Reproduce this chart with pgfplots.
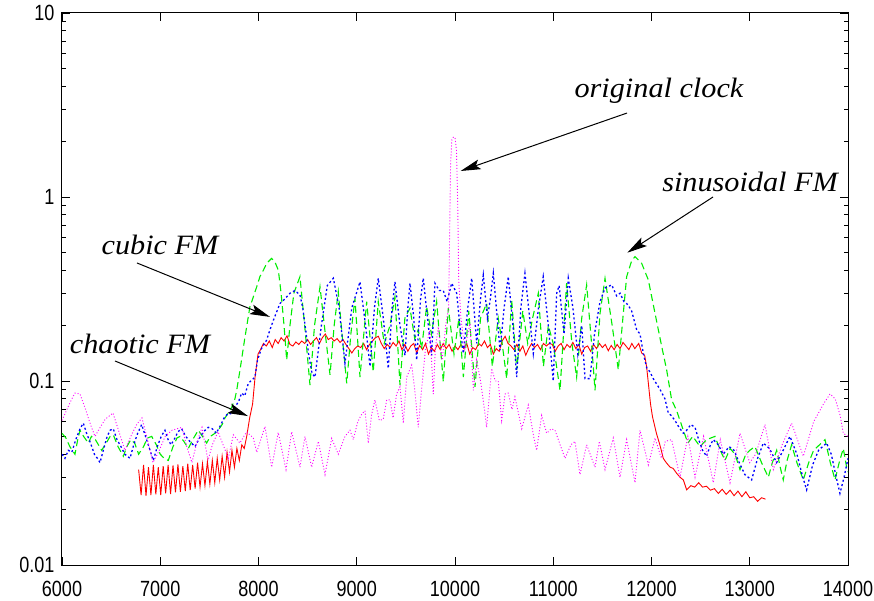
\documentclass[border=0pt]{standalone}
\usepackage{pgfplots}
\pgfplotsset{compat=1.18}
\usepackage{fontspec}
\usetikzlibrary{arrows.meta}
\newfontfamily\tickfont{Liberation Sans}[FakeStretch=0.82]
\newfontfamily\annfont{Liberation Serif}[FakeStretch=1.08]
\definecolor{gpred}{rgb}{1,0,0}
\definecolor{gpgreen}{rgb}{0,0.93,0}
\definecolor{gpblue}{rgb}{0,0,1}
\definecolor{gpmag}{rgb}{1,0,1}
\begin{document}
\begin{tikzpicture}
\begin{axis}[
  scale only axis, width=786bp, height=552bp,
  ymode=log, xmin=6000, xmax=14000, ymin=0.01, ymax=10,
  scaled x ticks=false,
  xtick={6000,7000,8000,9000,10000,11000,12000,13000,14000},
  xticklabels={6000,7000,8000,9000,10000,11000,12000,13000,14000},
  ytick={0.01,0.1,1,10},
  yticklabels={0.01,0.1,1,10},
  minor ytick={0.02,0.03,0.04,0.05,0.06,0.07,0.08,0.09,0.2,0.3,0.4,0.5,0.6,0.7,0.8,0.9,2,3,4,5,6,7,8,9},
  tick align=inside,
  major tick length=8bp, minor tick length=4.5bp,
  every tick/.style={black, line width=0.8bp},
  axis line style={line width=1bp},
  tick label style={font=\tickfont\fontsize{22bp}{24bp}\selectfont},
  xticklabel style={anchor=north, yshift=-15bp, inner sep=1bp},
  yticklabel style={xshift=-4bp},
  clip=true,
]
% chaotic FM
\addplot[gpred, line width=0.9bp] coordinates {
(6780,0.033)(6805,0.024)(6830,0.035)(6855,0.0238)(6880,0.034)(6905,0.024)(6930,0.035)(6955,0.0242)(6980,0.034)(7005,0.024)
(7030,0.0345)(7055,0.0245)(7080,0.035)(7105,0.0243)(7130,0.0348)(7155,0.0248)(7180,0.0352)(7205,0.025)(7230,0.0345)(7255,0.0252)
(7280,0.0355)(7305,0.0255)(7330,0.035)(7355,0.026)(7380,0.036)(7405,0.0265)(7430,0.0355)(7455,0.027)(7480,0.0365)(7505,0.0275)
(7530,0.037)(7555,0.028)(7580,0.038)(7605,0.029)(7630,0.039)(7655,0.030)(7680,0.041)(7705,0.032)(7730,0.042)(7755,0.034)
(7780,0.043)(7805,0.037)(7830,0.045)(7855,0.043)(7880,0.05)(7910,0.063)(7940,0.075)(7965,0.105)(7995,0.14)(8020,0.148)
(8050,0.16)(8080,0.155)(8110,0.165)(8140,0.152)(8170,0.168)(8200,0.16)(8230,0.172)(8260,0.165)(8290,0.176)(8320,0.158)
(8350,0.155)(8380,0.163)(8410,0.158)(8440,0.165)(8470,0.16)(8500,0.168)(8530,0.158)(8560,0.165)(8590,0.172)(8620,0.16)
(8650,0.172)(8680,0.18)(8710,0.168)(8740,0.172)(8770,0.165)(8800,0.17)(8830,0.162)(8860,0.168)(8890,0.158)(8920,0.15)
(8950,0.142)(8980,0.15)(9010,0.155)(9040,0.152)(9070,0.16)(9100,0.148)(9130,0.158)(9160,0.165)(9190,0.172)(9220,0.175)
(9250,0.16)(9280,0.15)(9310,0.158)(9340,0.152)(9370,0.162)(9400,0.155)(9430,0.165)(9460,0.148)(9490,0.158)(9520,0.145)
(9550,0.155)(9580,0.16)(9610,0.142)(9640,0.156)(9670,0.148)(9700,0.16)(9730,0.14)(9760,0.152)(9790,0.145)(9820,0.158)
(9850,0.148)(9880,0.16)(9910,0.15)(9940,0.158)(9970,0.145)(10000,0.155)(10030,0.148)(10060,0.158)(10090,0.15)(10120,0.16)
(10150,0.14)(10180,0.152)(10210,0.148)(10240,0.16)(10270,0.155)(10300,0.165)(10330,0.152)(10360,0.158)(10390,0.14)(10420,0.15)
(10450,0.145)(10480,0.165)(10510,0.175)(10540,0.16)(10570,0.155)(10600,0.148)(10630,0.158)(10660,0.145)(10690,0.155)(10720,0.138)
(10750,0.15)(10780,0.16)(10810,0.152)(10840,0.158)(10870,0.148)(10900,0.16)(10930,0.155)(10960,0.16)(10990,0.158)(11020,0.145)
(11050,0.155)(11080,0.16)(11110,0.148)(11140,0.158)(11170,0.152)(11200,0.162)(11230,0.15)(11260,0.158)(11290,0.14)(11320,0.152)
(11350,0.155)(11380,0.145)(11410,0.158)(11440,0.15)(11470,0.16)(11500,0.152)(11530,0.158)(11560,0.146)(11590,0.156)(11620,0.148)
(11650,0.158)(11680,0.15)(11710,0.162)(11740,0.155)(11770,0.148)(11800,0.16)(11830,0.15)(11870,0.16)(11900,0.142)(11930,0.138)
(11950,0.12)(11970,0.095)(11990,0.075)(12010,0.064)(12050,0.052)(12085,0.045)(12120,0.038)(12150,0.036)(12190,0.034)(12220,0.0335)
(12256,0.0315)(12290,0.030)(12324,0.029)(12358,0.0256)(12400,0.027)(12440,0.0265)(12480,0.028)(12520,0.0265)(12560,0.0268)(12600,0.0255)
(12640,0.026)(12680,0.0245)(12720,0.0258)(12760,0.0242)(12800,0.0255)(12840,0.0238)(12880,0.0252)(12920,0.0235)(12960,0.025)(13000,0.0232)
(13040,0.0235)(13080,0.0222)(13120,0.0232)(13160,0.0228)
};
% sinusoidal FM
\addplot[gpgreen, line width=1.1bp, dash pattern=on 7bp off 4bp] coordinates {
(6000,0.052)(6040,0.049)(6080,0.044)(6132,0.040)(6160,0.048)(6183,0.054)(6220,0.05)(6268,0.046)(6300,0.05)(6340,0.048)
(6404,0.042)(6450,0.046)(6490,0.05)(6522,0.051)(6570,0.044)(6624,0.039)(6660,0.044)(6700,0.048)(6740,0.046)(6780,0.04)
(6830,0.044)(6870,0.049)(6913,0.050)(6960,0.045)(7000,0.04)(7040,0.038)(7082,0.037)(7130,0.044)(7170,0.049)(7201,0.050)
(7240,0.047)(7286,0.043)(7330,0.048)(7387,0.054)(7430,0.05)(7472,0.046)(7510,0.05)(7557,0.052)(7600,0.055)(7630,0.058)
(7659,0.063)(7700,0.068)(7727,0.072)(7760,0.080)(7778,0.089)(7812,0.115)(7860,0.17)(7913,0.254)(7931,0.27)(7982,0.325)
(8015,0.37)(8050,0.40)(8083,0.436)(8134,0.464)(8170,0.44)(8202,0.40)(8230,0.3)(8260,0.2)(8287,0.13)(8320,0.2)
(8360,0.3)(8422,0.369)(8470,0.2)(8524,0.095)(8570,0.2)(8626,0.325)(8680,0.18)(8728,0.108)(8770,0.2)(8812,0.306)
(8850,0.18)(8898,0.097)(8940,0.18)(8982,0.281)(9033,0.105)(9101,0.27)(9168,0.112)(9219,0.27)(9280,0.16)(9338,0.2)
(9389,0.287)(9440,0.095)(9490,0.22)(9542,0.249)(9590,0.17)(9626,0.19)(9660,0.15)(9711,0.254)(9760,0.18)(9813,0.27)
(9881,0.099)(9932,0.249)(9990,0.14)(10040,0.22)(10085,0.105)(10140,0.24)(10204,0.093)(10260,0.22)(10322,0.264)(10380,0.12)
(10440,0.22)(10480,0.16)(10526,0.103)(10577,0.276)(10628,0.115)(10690,0.24)(10740,0.16)(10790,0.22)(10848,0.30)(10900,0.12)
(10950,0.2)(11000,0.16)(11069,0.089)(11136,0.34)(11190,0.16)(11238,0.105)(11290,0.22)(11340,0.333)(11390,0.16)(11425,0.089)
(11476,0.233)(11527,0.361)(11600,0.2)(11662,0.115)(11713,0.233)(11747,0.369)(11798,0.45)(11832,0.474)(11900,0.436)(11968,0.354)
(12036,0.233)(12104,0.154)(12154,0.115)(12205,0.079)(12256,0.069)(12324,0.054)(12370,0.046)(12420,0.05)(12494,0.044)(12560,0.048)
(12646,0.050)(12700,0.042)(12748,0.037)(12800,0.043)(12850,0.04)(12901,0.033)(12960,0.04)(13000,0.042)(13053,0.044)(13120,0.036)
(13189,0.030)(13230,0.036)(13274,0.042)(13310,0.034)(13341,0.029)(13380,0.037)(13426,0.045)(13480,0.036)(13545,0.029)(13600,0.036)
(13650,0.042)(13710,0.045)(13766,0.048)(13820,0.036)(13868,0.029)(13910,0.036)(13952,0.043)(13986,0.034)(14000,0.032)
};
% cubic FM
\addplot[gpblue, line width=1.3bp, dash pattern=on 2bp off 2.5bp] coordinates {
(6000,0.040)(6030,0.038)(6064,0.042)(6100,0.041)(6140,0.048)(6183,0.055)(6217,0.059)(6250,0.052)(6290,0.046)(6330,0.040)
(6360,0.038)(6387,0.036)(6420,0.042)(6460,0.050)(6490,0.054)(6522,0.055)(6560,0.048)(6600,0.044)(6640,0.040)(6692,0.038)
(6730,0.045)(6770,0.052)(6811,0.058)(6850,0.050)(6890,0.043)(6929,0.037)(6970,0.044)(7010,0.050)(7048,0.054)(7080,0.048)
(7110,0.045)(7150,0.049)(7180,0.053)(7218,0.055)(7260,0.050)(7300,0.047)(7354,0.044)(7400,0.049)(7440,0.053)(7489,0.056)
(7530,0.055)(7570,0.052)(7610,0.057)(7650,0.063)(7693,0.067)(7730,0.066)(7761,0.072)(7800,0.078)(7829,0.086)(7860,0.083)
(7896,0.097)(7930,0.101)(7964,0.105)(7990,0.13)(8030,0.15)(8083,0.167)(8117,0.19)(8160,0.22)(8219,0.264)(8270,0.28)
(8321,0.30)(8370,0.31)(8422,0.294)(8450,0.25)(8480,0.19)(8510,0.14)(8545,0.11)(8575,0.105)(8640,0.2)(8700,0.33)
(8762,0.362)(8820,0.25)(8880,0.125)(8950,0.25)(9033,0.346)(9090,0.2)(9135,0.12)(9180,0.25)(9219,0.362)(9270,0.22)
(9321,0.117)(9360,0.25)(9389,0.346)(9440,0.2)(9491,0.138)(9520,0.25)(9542,0.34)(9580,0.22)(9610,0.13)(9650,0.28)
(9677,0.362)(9720,0.22)(9762,0.138)(9796,0.34)(9840,0.31)(9881,0.31)(9920,0.27)(9966,0.34)(10017,0.30)(10050,0.2)
(10085,0.141)(10130,0.25)(10170,0.362)(10221,0.16)(10260,0.28)(10288,0.377)(10330,0.22)(10360,0.28)(10390,0.385)(10430,0.22)
(10458,0.147)(10500,0.25)(10542,0.369)(10590,0.2)(10628,0.105)(10670,0.25)(10712,0.385)(10760,0.22)(10797,0.141)(10850,0.25)
(10898,0.369)(10950,0.2)(11000,0.1)(11035,0.30)(11060,0.33)(11110,0.18)(11153,0.362)(11200,0.25)(11250,0.14)(11290,0.2)
(11323,0.103)(11374,0.103)(11420,0.18)(11476,0.27)(11527,0.32)(11595,0.333)(11645,0.29)(11680,0.30)(11720,0.27)(11760,0.26)
(11798,0.24)(11849,0.19)(11883,0.18)(11917,0.141)(11951,0.118)(11985,0.112)(12018,0.103)(12087,0.09)(12137,0.08)(12171,0.067)
(12200,0.065)(12239,0.061)(12280,0.056)(12324,0.052)(12358,0.054)(12400,0.058)(12443,0.056)(12480,0.048)(12520,0.042)(12561,0.039)
(12600,0.045)(12629,0.048)(12680,0.045)(12730,0.040)(12790,0.044)(12840,0.042)(12883,0.037)(12950,0.031)(13019,0.029)(13080,0.038)
(13138,0.046)(13200,0.043)(13274,0.036)(13340,0.042)(13409,0.05)(13480,0.04)(13540,0.03)(13579,0.0256)(13640,0.035)(13700,0.042)
(13782,0.046)(13830,0.04)(13880,0.03)(13918,0.0245)(13960,0.03)(14000,0.038)
};
% original clock
\addplot[gpmag, line width=0.9bp, dash pattern=on 1bp off 2bp] coordinates {
(6000,0.061)(6050,0.07)(6100,0.08)(6132,0.086)(6183,0.085)(6240,0.07)(6290,0.058)(6336,0.05)(6380,0.055)(6440,0.062)
(6519,0.067)(6570,0.055)(6641,0.042)(6700,0.05)(6760,0.058)(6814,0.063)(6870,0.048)(6926,0.036)(6990,0.042)(7050,0.05)
(7120,0.054)(7221,0.056)(7270,0.044)(7323,0.036)(7370,0.046)(7425,0.056)(7486,0.037)(7530,0.045)(7588,0.053)(7640,0.045)
(7693,0.038)(7744,0.051)(7810,0.046)(7880,0.053)(7947,0.049)(7982,0.041)(8066,0.0566)(8134,0.034)(8201,0.0525)(8280,0.033)
(8338,0.053)(8422,0.034)(8473,0.0499)(8541,0.034)(8609,0.047)(8677,0.031)(8745,0.0488)(8812,0.040)(8880,0.05)(8931,0.054)
(8965,0.048)(9010,0.06)(9050,0.066)(9084,0.069)(9118,0.046)(9150,0.065)(9185,0.079)(9230,0.061)(9270,0.062)(9305,0.079)
(9338,0.079)(9370,0.063)(9406,0.085)(9440,0.093)(9474,0.059)(9508,0.105)(9559,0.122)(9590,0.09)(9626,0.056)(9660,0.09)
(9700,0.15)(9745,0.189)(9779,0.085)(9800,0.15)(9830,0.197)(9870,0.13)(9905,0.2)(9935,0.25)(9945,0.6)(9955,1.5)
(9968,2.05)(9985,2.12)(10000,2.1)(10015,1.8)(10028,0.9)(10038,0.35)(10060,0.22)(10100,0.15)(10130,0.18)(10153,0.205)
(10187,0.089)(10220,0.13)(10260,0.1)(10300,0.07)(10322,0.056)(10373,0.117)(10410,0.1)(10440,0.1)(10475,0.061)(10510,0.085)
(10542,0.086)(10580,0.07)(10610,0.082)(10679,0.055)(10746,0.074)(10800,0.05)(10831,0.042)(10882,0.065)(10933,0.052)(10980,0.055)
(11018,0.054)(11070,0.045)(11120,0.038)(11180,0.045)(11221,0.047)(11272,0.031)(11340,0.045)(11425,0.034)(11469,0.047)(11527,0.033)
(11611,0.049)(11679,0.030)(11747,0.048)(11832,0.028)(11883,0.054)(11968,0.035)(12036,0.049)(12100,0.038)(12140,0.047)(12205,0.048)
(12290,0.030)(12370,0.05)(12443,0.030)(12530,0.05)(12629,0.028)(12700,0.048)(12799,0.028)(12901,0.052)(13000,0.036)(13060,0.04)
(13155,0.058)(13240,0.033)(13330,0.045)(13426,0.059)(13545,0.039)(13650,0.06)(13750,0.075)(13817,0.085)(13870,0.08)(13920,0.065)
(13952,0.052)(14000,0.05)
};
% annotations
\draw[line width=1bp, -{Stealth[length=20bp,width=10bp,inset=4bp]}] (axis cs:11751,2.86) -- (axis cs:10058,1.385);
\draw[line width=1bp, -{Stealth[length=20bp,width=10bp,inset=4bp]}] (axis cs:12626,1.0) -- (axis cs:11754,0.498);
\draw[line width=1bp, -{Stealth[length=20bp,width=10bp,inset=4bp]}] (axis cs:6763,0.438) -- (axis cs:8117,0.223);
\draw[line width=1bp, -{Stealth[length=20bp,width=10bp,inset=4bp]}] (axis cs:6539,0.1285) -- (axis cs:7893,0.0645);
\node[font=\annfont\itshape\fontsize{28bp}{30bp}\selectfont, inner sep=0pt] at (axis cs:12076,3.77) {original clock};
\node[font=\annfont\itshape\fontsize{28bp}{30bp}\selectfont, inner sep=0pt] at (axis cs:13003,1.206) {sinusoidal FM};
\node[font=\annfont\itshape\fontsize{28bp}{30bp}\selectfont, inner sep=0pt] at (axis cs:6997,0.548) {cubic FM};
\node[font=\annfont\itshape\fontsize{28bp}{30bp}\selectfont, inner sep=0pt] at (axis cs:6794,0.159) {chaotic FM};
\end{axis}
\pgfresetboundingbox
\path (-62bp,-36bp) rectangle (812bp,565bp);
\end{tikzpicture}
\end{document}
